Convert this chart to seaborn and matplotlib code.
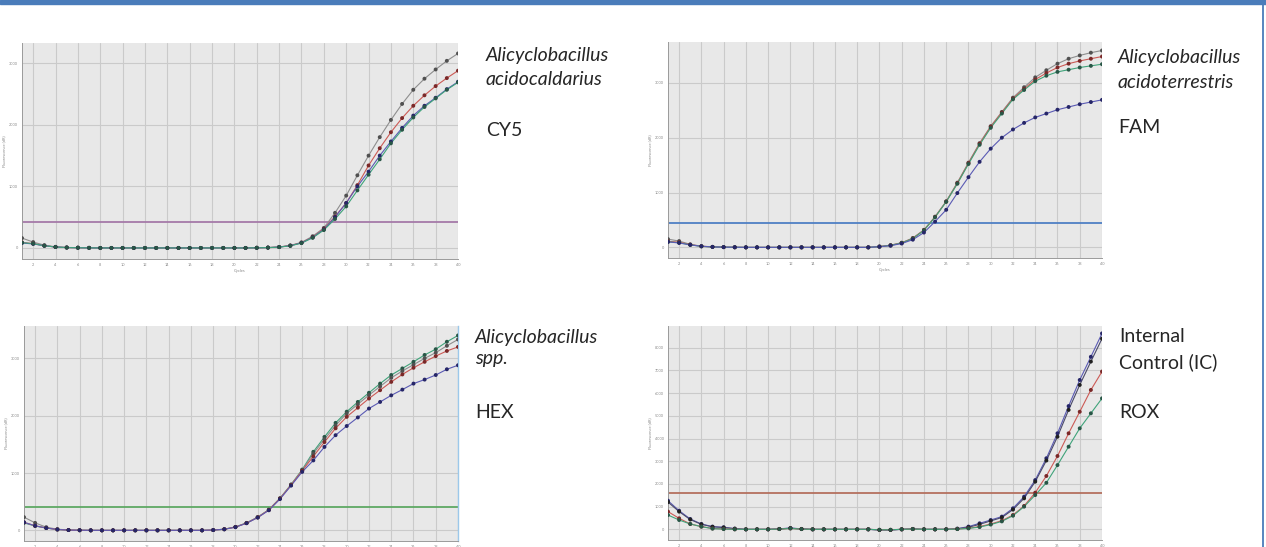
import numpy as np
import pandas as pd
import matplotlib
matplotlib.use('Agg')
import matplotlib.pyplot as plt
from matplotlib.patches import Rectangle
from matplotlib.lines import Line2D
import seaborn as sns

# ------------------------------------------------------------
# data
# ------------------------------------------------------------
cycles = list(range(1, 41))

cy5_gray = [160, 95, 45, 18, 8, 4, 2, 0, 0, 0, 0, 0, 0, 0, 0, 0, 0, 0, 0, 0,
            0, 2, 5, 15, 40, 90, 190, 325, 570, 850,
            1180, 1500, 1800, 2080, 2340, 2570, 2750, 2900, 3040, 3160]
cy5_red = [90, 70, 35, 15, 6, 3, 1, 0, 0, 0, 0, 0, 0, 0, 0, 0, 0, 0, 0, 0,
           0, 2, 5, 15, 38, 85, 175, 310, 510, 730,
           1020, 1340, 1620, 1880, 2110, 2310, 2480, 2630, 2760, 2880]
cy5_blue = [80, 65, 35, 15, 6, 3, 1, 0, 0, 0, 0, 0, 0, 0, 0, 0, 0, 0, 0, 0,
            0, 2, 5, 14, 36, 82, 170, 300, 500, 730,
            1000, 1240, 1500, 1730, 1950, 2150, 2310, 2440, 2580, 2700]
cy5_green = [85, 70, 35, 15, 6, 3, 1, 0, 0, 0, 0, 0, 0, 0, 0, 0, 0, 0, 0, 0,
             0, 2, 5, 13, 34, 78, 165, 290, 470, 675,
             935, 1190, 1440, 1700, 1920, 2120, 2290, 2430, 2570, 2690]

fam_gray = [150, 115, 55, 22, 10, 5, 2, 0, 0, 0, 0, 0, 0, 0, 0, 0, 0, 0, 0, 15,
            40, 85, 170, 320, 560, 840, 1180, 1545, 1900, 2210,
            2470, 2730, 2920, 3100, 3230, 3350, 3440, 3500, 3550, 3590]
fam_red = [110, 95, 50, 20, 9, 4, 2, 0, 0, 0, 0, 0, 0, 0, 0, 0, 0, 0, 0, 14,
           38, 82, 165, 315, 555, 835, 1170, 1535, 1890, 2200,
           2460, 2715, 2890, 3060, 3180, 3280, 3350, 3400, 3440, 3480]
fam_green = [100, 85, 45, 18, 8, 4, 2, 0, 0, 0, 0, 0, 0, 0, 0, 0, 0, 0, 0, 13,
             36, 80, 160, 310, 550, 830, 1160, 1520, 1870, 2180,
             2440, 2700, 2870, 3030, 3130, 3200, 3240, 3280, 3310, 3340]
fam_blue = [100, 80, 45, 20, 8, 4, 2, 0, 0, 0, 0, 0, 0, 0, 0, 0, 0, 0, 0, 12,
            30, 70, 140, 270, 470, 685, 990, 1280, 1560, 1800,
            2000, 2150, 2270, 2370, 2440, 2510, 2560, 2610, 2650, 2690]

hex_green = [130, 75, 40, 15, 5, 2, 0, 0, 0, 0, 0, 0, 0, 0, 0, 0, 0, 5, 20, 60,
             130, 230, 360, 560, 800, 1060, 1370, 1630, 1875, 2070,
             2240, 2400, 2560, 2710, 2825, 2940, 3060, 3160, 3290, 3400]
hex_gray = [230, 130, 55, 20, 6, 2, 0, 0, 0, 0, 0, 0, 0, 0, 0, 0, 0, 5, 20, 58,
            128, 228, 358, 555, 795, 1050, 1340, 1590, 1830, 2040,
            2200, 2360, 2510, 2660, 2780, 2890, 3000, 3100, 3220, 3330]
hex_red = [140, 80, 40, 15, 5, 2, 0, 0, 0, 0, 0, 0, 0, 0, 0, 0, 0, 5, 19, 57,
           126, 226, 356, 555, 790, 1040, 1290, 1540, 1780, 1980,
           2140, 2300, 2445, 2590, 2720, 2836, 2940, 3040, 3130, 3200]
hex_blue = [140, 80, 40, 15, 5, 2, 0, 0, 0, 0, 0, 0, 0, 0, 0, 0, 0, 5, 18, 55,
            124, 222, 350, 545, 780, 1020, 1220, 1455, 1660, 1820,
            1970, 2125, 2240, 2355, 2455, 2560, 2630, 2710, 2810, 2880]

rox_blue = [1260, 820, 455, 235, 120, 90, 30, 0, 0, 0, 20, 60, 20, 0, 0, 0, 0, 0, 0, -30,
            -30, 0, 20, 0, 0, 0, 30, 120, 265, 410,
            560, 925, 1440, 2170, 3130, 4230, 5430, 6580, 7600, 8630]
rox_black = [1200, 780, 430, 220, 110, 80, 30, 0, 0, 0, 15, 50, 15, 0, 0, 0, 0, 0, 0, -25,
             -25, 0, 15, 0, 0, 0, 25, 90, 220, 370,
             520, 870, 1365, 2100, 3030, 4080, 5260, 6360, 7390, 8400]
rox_red = [780, 485, 235, 120, 40, 20, 0, 0, 0, 0, 10, 40, 10, 0, 0, 0, 0, 0, 0, -20,
           -20, 0, 10, 0, 0, 0, 15, 50, 120, 235,
           380, 630, 1030, 1615, 2350, 3230, 4230, 5180, 6140, 6950]
rox_green = [630, 410, 235, 120, 30, 10, 0, 0, 0, 0, 10, 40, 10, 0, 0, 0, 0, 0, 0, -20,
             -20, 0, 10, 0, 0, 0, 10, 40, 100, 210,
             350, 600, 1000, 1510, 2050, 2830, 3640, 4450, 5110, 5770]

thresholds = {"CY5": 420, "FAM": 440, "HEX": 400, "ROX": 1615}
y_ticks_small = [0, 1000, 2000, 3000]
y_ticks_rox = [0, 1000, 2000, 3000, 4000, 5000, 6000, 7000, 8000]
x_ticks = list(range(2, 41, 2))

panel_series = {
    "CY5": {"gray": cy5_gray, "red": cy5_red, "blue": cy5_blue, "green": cy5_green},
    "FAM": {"gray": fam_gray, "red": fam_red, "green": fam_green, "blue": fam_blue},
    "HEX": {"green": hex_green, "gray": hex_gray, "red": hex_red, "blue": hex_blue},
    "ROX": {"blue": rox_blue, "black": rox_black, "red": rox_red, "green": rox_green},
}

# ------------------------------------------------------------
# styling
# ------------------------------------------------------------
sns.set_style("white")
plt.rcParams['font.family'] = ['Lato', 'DejaVu Sans']

W, H = 1266, 547
line_colors = {"gray": "#8e8e8e", "red": "#cc5a55", "blue": "#5a5ab4",
               "green": "#3fa37a", "black": "#4a4a6a"}
marker_colors = {"gray": "#505050", "red": "#7a2828", "blue": "#262668",
                 "green": "#285646", "black": "#202020"}
thr_colors = {"CY5": "#a57aa8", "FAM": "#4f7fc4", "HEX": "#5ea864", "ROX": "#b4705e"}

# pixel boxes (left, top, right, bottom) for each plot area
boxes = {"CY5": (22, 43, 458, 259), "FAM": (668, 42, 1102, 258),
         "HEX": (24, 326, 458, 541), "ROX": (668, 326, 1102, 540)}
ylims = {"CY5": (-180, 3330), "FAM": (-194, 3745), "HEX": (-186, 3565), "ROX": (-470, 8957)}

fig = plt.figure(figsize=(W / 100, H / 100), dpi=100)
fig.patch.set_facecolor("white")

for name, series in panel_series.items():
    l, t, r, b = boxes[name]
    ax = fig.add_axes([l / W, 1 - b / H, (r - l) / W, (b - t) / H])
    ax.set_facecolor("#e8e8e8")

    df = pd.DataFrame([(c, s, v) for s, vals in series.items() for c, v in zip(cycles, vals)],
                      columns=["cycle", "series", "value"])

    ax.axhline(thresholds[name], color=thr_colors[name], lw=1.3, zorder=1.5)
    sns.lineplot(data=df, x="cycle", y="value", hue="series", palette=line_colors,
                 lw=0.8, legend=False, ax=ax, zorder=2)
    sns.scatterplot(data=df, x="cycle", y="value", hue="series", palette=marker_colors,
                    s=8, linewidth=0, legend=False, ax=ax, zorder=3)

    ax.set_xlim(1, 40)
    ax.set_ylim(*ylims[name])
    ax.set_xticks(x_ticks)
    ax.set_xticks(cycles, minor=True)
    ax.set_yticks(y_ticks_rox if name == "ROX" else y_ticks_small)
    ax.grid(True, which="major", color="#cacaca", lw=0.8)
    ax.set_axisbelow(True)
    ax.tick_params(axis="both", which="both", labelsize=2.8, labelcolor="#8a8a8a",
                   color="#9a9a9a", length=1.5, width=0.5, pad=1.5)
    # the bottom row is cut by the page edge, so only the top row shows "Cycles"
    if name in ("CY5", "FAM"):
        ax.set_xlabel("Cycles", fontsize=3, color="#8a8a8a", labelpad=1)
    else:
        ax.set_xlabel("")
    ax.set_ylabel("Fluorescence (dR)", fontsize=3, color="#8a8a8a", labelpad=2)
    for side in ("top", "right"):
        ax.spines[side].set_visible(False)
    for side in ("left", "bottom"):
        ax.spines[side].set_color("#9a9a9a")
        ax.spines[side].set_linewidth(0.7)
    if name == "HEX":
        ax.spines["right"].set_visible(True)
        ax.spines["right"].set_color("#9cc8ea")
        ax.spines["right"].set_linewidth(1.0)

# labels to the right of each plot
def label(x, y, txt, italic=False):
    fig.text(x / W, 1 - y / H, txt, fontsize=14, color="#262626",
             style="italic" if italic else "normal", va="baseline", ha="left")

label(486, 61, "Alicyclobacillus", True)
label(486, 85, "acidocaldarius", True)
label(486, 136, "CY5")

label(1118, 63, "Alicyclobacillus", True)
label(1118, 88, "acidoterrestris", True)
label(1118, 133, "FAM")

label(475, 343, "Alicyclobacillus", True)
label(475, 364, "spp.", True)
label(475, 418, "HEX")

label(1119, 342, "Internal")
label(1119, 368, "Control (IC)")
label(1119, 418, "ROX")

# header bar and right frame line
fig.patches.append(Rectangle((0, 1 - 4 / H), 1, 4 / H, transform=fig.transFigure,
                             color="#4a7cba", zorder=5))
fig.lines.append(Line2D([1263 / W, 1263 / W], [0, 1], transform=fig.transFigure,
                        color="#4a7cba", lw=1.3))

fig.savefig("out.png", dpi=100)
